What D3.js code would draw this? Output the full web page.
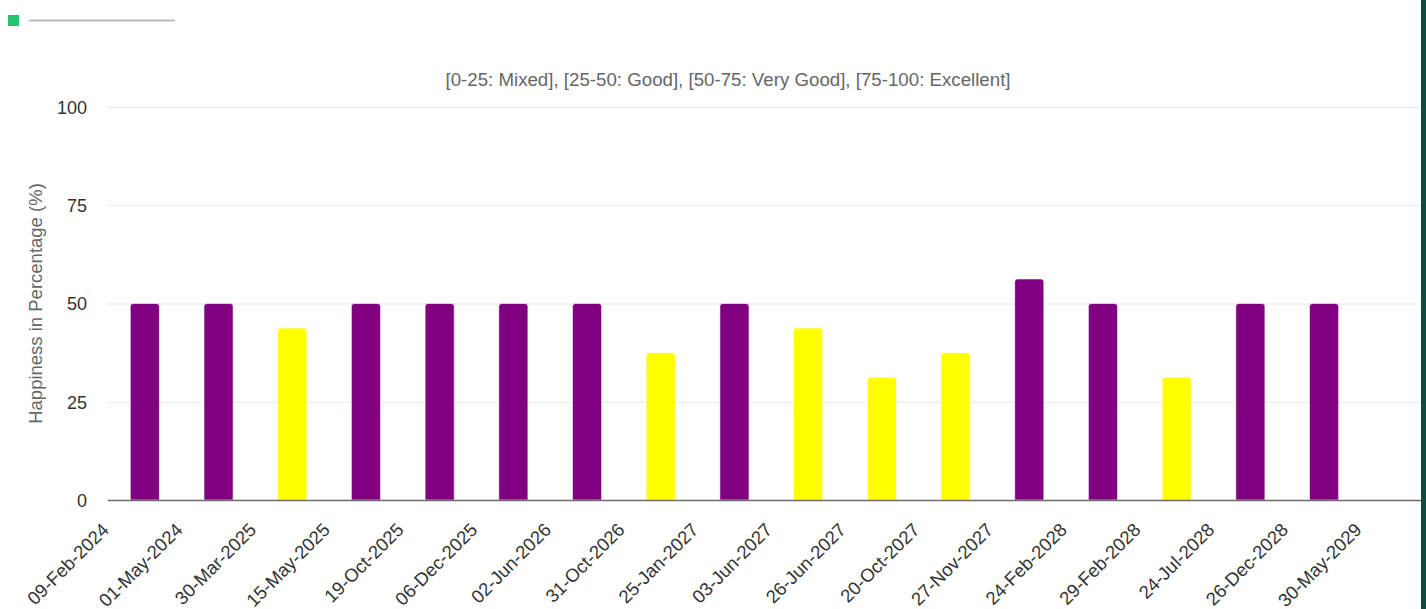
<!DOCTYPE html>
<html>
<head>
<meta charset="utf-8">
<script src="https://cdnjs.cloudflare.com/ajax/libs/d3/7.8.5/d3.min.js"></script>
<style>
  html, body { margin: 0; padding: 0; background: #fff; overflow: hidden; }
  text { font-family: "Liberation Sans", Arial, sans-serif; }
</style>
</head>
<body>
<div id="chart"></div>
<script>
// categories (18 dates, last one has no bar)
var dates = ["09-Feb-2024", "01-May-2024", "30-Mar-2025", "15-May-2025", "19-Oct-2025",
    "06-Dec-2025", "02-Jun-2026", "31-Oct-2026", "25-Jan-2027", "03-Jun-2027",
    "26-Jun-2027", "20-Oct-2027", "27-Nov-2027", "24-Feb-2028", "29-Feb-2028",
    "24-Jul-2028", "26-Dec-2028", "30-May-2029"];
var happiness = [50, 50, 43.75, 50, 50, 50, 50, 37.5, 50, 43.75, 31.25, 37.5, 56.25, 50, 31.25, 50, 50];
var yTicks = [0, 25, 50, 75, 100];
var subtitle = "[0-25: Mixed], [25-50: Good], [50-75: Very Good], [75-100: Excellent]";
var yTitle = "Happiness in Percentage (%)";

var WIDTH = 1426, HEIGHT = 609;
var plotLeft = 108, plotRight = 1434.6, plotTop = 107, plotBottom = 500;

var svg = d3.select("#chart").append("svg")
    .attr("width", WIDTH)
    .attr("height", HEIGHT);

var x = d3.scaleBand()
    .domain(dates)
    .range([plotLeft, plotRight])
    .paddingInner(0.605)
    .paddingOuter(0.3025);

var y = d3.scaleLinear().domain([0, 100]).range([plotBottom, plotTop]);

var color = d3.scaleThreshold().domain([50]).range(["#ffff00", "#800080"]);

// legend stub top left
svg.append("rect").attr("x", 8).attr("y", 15).attr("width", 11).attr("height", 11)
    .attr("fill", "#26c26e");
svg.append("line").attr("x1", 29).attr("x2", 175).attr("y1", 20.5).attr("y2", 20.5)
    .attr("stroke", "#bdbdbd").attr("stroke-width", 2);

// subtitle
svg.append("text")
    .attr("x", 728).attr("y", 86)
    .attr("text-anchor", "middle")
    .attr("fill", "#666")
    .style("font-size", "18.7px")
    .text(subtitle);

// grid + y labels
var yAxis = svg.append("g")
    .attr("transform", "translate(" + plotLeft + ",0)")
    .call(d3.axisLeft(y).tickValues(yTicks).tickSize(-(plotRight - plotLeft)).tickPadding(21));
yAxis.select(".domain").remove();
yAxis.selectAll(".tick line").attr("stroke", "#e6e6e6");
yAxis.selectAll(".tick text")
    .attr("fill", "#333")
    .style("font-size", "18px")
    .attr("dy", "0.35em");

// y title
svg.append("text")
    .attr("transform", "translate(42," + ((plotTop + plotBottom) / 2) + ")rotate(-90)")
    .attr("text-anchor", "middle")
    .attr("fill", "#666")
    .style("font-size", "18.5px")
    .text(yTitle);

// bars with rounded top
var r = 3;
svg.append("g").selectAll("path")
    .data(happiness)
    .enter().append("path")
    .attr("d", function (d, i) {
        var x0 = x(dates[i]), x1 = x0 + x.bandwidth(), yt = y(d), yb = y(0);
        return "M" + x0 + "," + yb + "V" + (yt + r) + "Q" + x0 + "," + yt + " " + (x0 + r) + "," + yt +
            "H" + (x1 - r) + "Q" + x1 + "," + yt + " " + x1 + "," + (yt + r) + "V" + yb + "Z";
    })
    .attr("fill", function (d) { return color(d); })
    .attr("stroke", "#fff")
    .attr("stroke-width", 0.6);

// x axis line
svg.append("line")
    .attr("x1", plotLeft).attr("x2", plotRight)
    .attr("y1", plotBottom + 0.5).attr("y2", plotBottom + 0.5)
    .attr("stroke", "#6b6b6b").attr("stroke-width", 1.5);

// x labels, end anchored at start of each band
var step = x.step();
svg.append("g").selectAll("text")
    .data(dates)
    .enter().append("text")
    .attr("transform", function (d) {
        var px = x(d) + x.bandwidth() / 2 - step / 2;
        return "translate(" + (px + 2) + "," + 531 + ")rotate(-45)";
    })
    .attr("text-anchor", "end")
    .attr("fill", "#333")
    .style("font-size", "18.5px")
    .text(function (d) { return d; });

// dark strip on right edge
svg.append("rect").attr("x", 1421).attr("y", 0).attr("width", 5).attr("height", HEIGHT)
    .attr("fill", "#0f4a3e");
</script>
</body>
</html>
